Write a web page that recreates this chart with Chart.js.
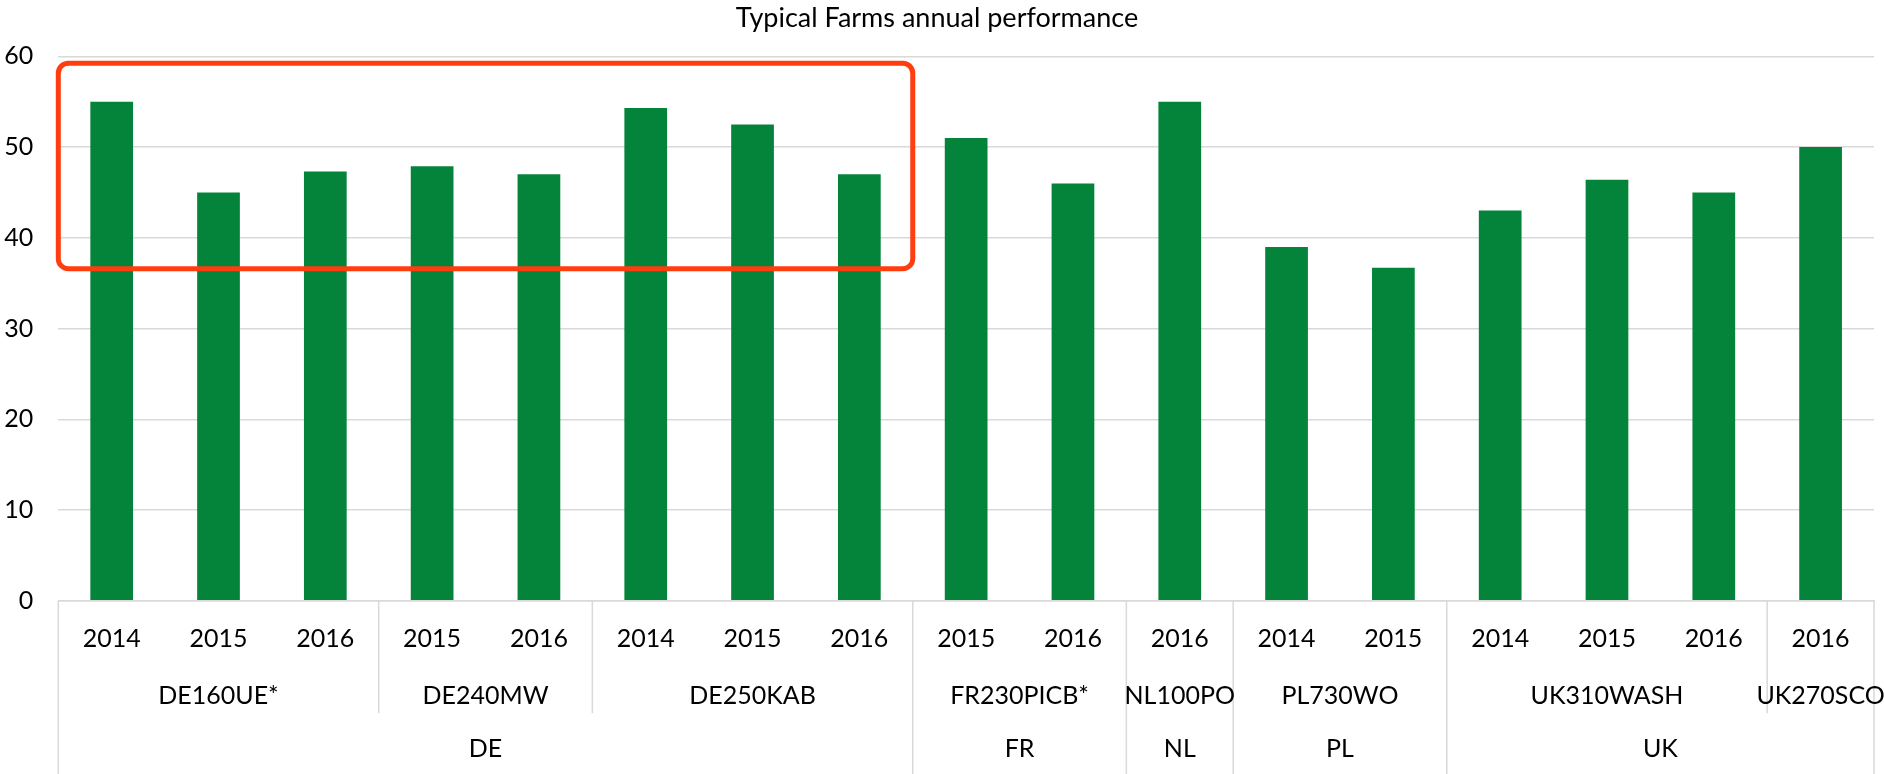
<!DOCTYPE html>
<html>
<head>
<meta charset="utf-8">
<title>Typical Farms annual performance</title>
<script src="https://cdn.jsdelivr.net/npm/chart.js@4/dist/chart.umd.min.js"></script>
<style>
  html, body { margin: 0; padding: 0; background: #fff; }
  #wrap { width: 1884px; height: 774px; position: relative; }
</style>
</head>
<body>
<div id="wrap"><canvas id="chart"></canvas></div>
<script>
'use strict';

// ── Data ─────────────────────────────────────────────────────────────────────

const YEARS = ['2014','2015','2016','2015','2016','2014','2015','2016',
               '2015','2016','2016','2014','2015','2014','2015','2016','2016'];
const FARMS = ['DE160UE*','DE160UE*','DE160UE*','DE240MW','DE240MW',
               'DE250KAB','DE250KAB','DE250KAB','FR230PICB*','FR230PICB*',
               'NL100PO','PL730WO','PL730WO','UK310WASH','UK310WASH','UK310WASH','UK270SCO'];
const COUNTRIES = ['DE','DE','DE','DE','DE','DE','DE','DE','FR','FR',
                   'NL','PL','PL','UK','UK','UK','UK'];
const VALUES = [55.0, 45.0, 47.3, 47.9, 47.0, 54.3, 52.5, 47.0,
                51.0, 46.0, 55.0, 39.0, 36.7, 43.0, 46.4, 45.0, 50.0];

const Y_MIN = 0, Y_MAX = 60, Y_STEP = 10;

// highlight box round the DE group (value range on the y axis)
const HIGHLIGHT_COUNTRY = 'DE';
const HIGHLIGHT_TOP     = 59.25;
const HIGHLIGHT_BOTTOM  = 36.6;

const FONT   = 'Lato, "Open Sans", sans-serif';
const GREEN  = '#04843a';
const GRID   = '#d9d9d9';
const RED    = '#ff3d0f';

// ── Helpers ──────────────────────────────────────────────────────────────────

// consecutive runs of equal labels -> [{label, start, end}]
function runs(arr) {
    const out = [];
    arr.forEach((v, i) => {
        const last = out[out.length - 1];
        if (last && last.label === v) last.end = i;
        else out.push({ label: v, start: i, end: i });
    });
    return out;
}

// pixel edge before category i (0..n)
function edgeAt(x, i) {
    const n = x.getLabels().length;
    if (i <= 0) return x.left;
    if (i >= n) return x.right;
    return (x.getPixelForValue(i - 1) + x.getPixelForValue(i)) / 2;
}

// ── Plugins ──────────────────────────────────────────────────────────────────

const groupAxis = {
    id: 'groupAxis',
    afterDraw(chart) {
        const { ctx } = chart;
        const x = chart.scales.x;
        const top = x.top;
        const bottom = chart.height;
        const farmSepEnd = top + 112.5;

        ctx.save();
        ctx.strokeStyle = GRID;
        ctx.lineWidth = 1.5;

        const line = (px, y1, y2) => {
            ctx.beginPath();
            ctx.moveTo(px, y1);
            ctx.lineTo(px, y2);
            ctx.stroke();
        };

        // outer edges
        line(x.left, top, bottom);
        line(x.right, top, bottom);

        const countryStarts = new Set(runs(COUNTRIES).map(r => r.start));
        runs(FARMS).forEach(r => {
            if (r.start === 0) return;
            const px = edgeAt(x, r.start);
            line(px, top, countryStarts.has(r.start) ? bottom : farmSepEnd);
        });

        ctx.fillStyle = '#000';
        ctx.textAlign = 'center';
        ctx.textBaseline = 'middle';
        ctx.font = `25px ${FONT}`;

        runs(FARMS).forEach(r => {
            const cx = (edgeAt(x, r.start) + edgeAt(x, r.end + 1)) / 2;
            ctx.fillText(r.label, cx, top + 95);
        });
        runs(COUNTRIES).forEach(r => {
            const cx = (edgeAt(x, r.start) + edgeAt(x, r.end + 1)) / 2;
            ctx.fillText(r.label, cx, top + 148);
        });
        ctx.restore();
    }
};

const highlightBox = {
    id: 'highlightBox',
    afterDatasetsDraw(chart) {
        const { ctx } = chart;
        const x = chart.scales.x, y = chart.scales.y;
        const grp = runs(COUNTRIES).find(r => r.label === HIGHLIGHT_COUNTRY);
        if (!grp) return;
        const x1 = edgeAt(x, grp.start), x2 = edgeAt(x, grp.end + 1);
        const y1 = y.getPixelForValue(HIGHLIGHT_TOP), y2 = y.getPixelForValue(HIGHLIGHT_BOTTOM);
        ctx.save();
        ctx.strokeStyle = RED;
        ctx.lineWidth = 5;
        ctx.beginPath();
        ctx.roundRect(x1, y1, x2 - x1, y2 - y1, 10);
        ctx.stroke();
        ctx.restore();
    }
};

// ── Chart ────────────────────────────────────────────────────────────────────

Chart.defaults.font.family = FONT;
Chart.defaults.color = '#000';

new Chart(document.getElementById('chart'), {
    type: 'bar',
    data: {
        labels: YEARS.map((_, i) => i),
        datasets: [{
            data: VALUES,
            backgroundColor: GREEN,
            borderWidth: 0,
            barPercentage: 0.4,
            categoryPercentage: 1.0,
        }]
    },
    options: {
        responsive: true,
        maintainAspectRatio: false,
        animation: false,
        layout: { padding: { left: 0, right: 10, top: 0, bottom: 0 } },
        plugins: {
            legend: { display: false },
            tooltip: { enabled: false },
            title: {
                display: true,
                text: 'Typical Farms annual performance',
                color: '#000',
                font: { size: 27, weight: 'normal', family: FONT },
                padding: { top: 2, bottom: 22 },
            },
        },
        scales: {
            x: {
                grid: { display: false },
                border: { display: true, color: GRID, width: 1.5 },
                ticks: {
                    font: { size: 25 },
                    padding: 15,
                    maxRotation: 0,
                    autoSkip: false,
                    callback: (v, i) => YEARS[i],
                },
                afterFit: s => { s.height = 173.3; },
            },
            y: {
                min: Y_MIN,
                max: Y_MAX,
                grid: { color: GRID, lineWidth: 1.5, drawTicks: false },
                border: { display: false },
                ticks: { stepSize: Y_STEP, font: { size: 25 }, padding: 25 },
                afterFit: s => { s.width = 58.3; },
            },
        },
    },
    plugins: [highlightBox, groupAxis],
});
</script>
</body>
</html>
